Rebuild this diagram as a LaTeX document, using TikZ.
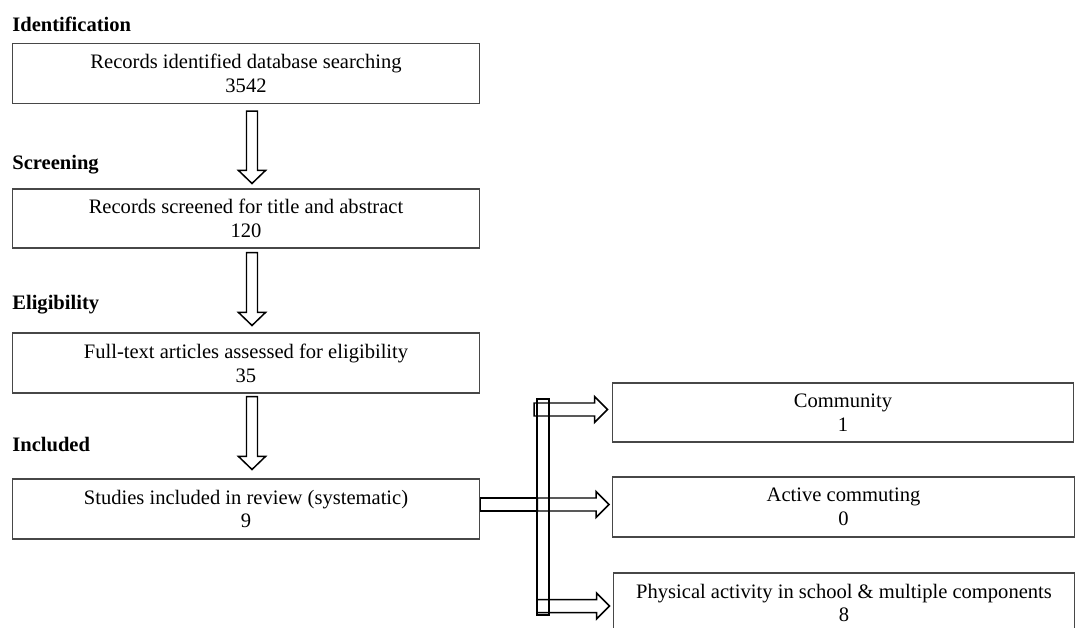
\documentclass[tikz,border=0pt]{standalone}
\usepackage{fontspec}
\setmainfont{Liberation Serif}
\usetikzlibrary{calc,positioning}

\tikzset{
  stagebox/.style={draw=black!72,line width=0.6pt,minimum width=9.36cm,
    minimum height=1.2cm,align=center,inner sep=0pt,
    font=\fontsize{11.7}{13.6}\selectfont},
  groupbox/.style={stagebox,minimum width=9.24cm},
  stagelabel/.style={anchor=base west,inner sep=0pt,
    font=\fontsize{11.7}{13.6}\selectfont\bfseries},
  blockarrow/.style={draw=black,line width=0.85pt,line join=miter}
}

% hollow block arrows, start and tip on one line
\newcommand{\flowdown}[2]{%
  \draw[blockarrow] ($(#1)+(-5.5,0)$) -- ($(#2)+(-5.5,-13)$)
    -- ($(#2)+(-13.5,-13)$) -- (#2) -- ($(#2)+(13.5,-13)$)
    -- ($(#2)+(5.5,-13)$) -- ($(#1)+(5.5,0)$) -- cycle;}
\newcommand{\flowright}[2]{%
  \draw[blockarrow] ($(#1)+(0,-6.5)$) -- ($(#2)+(-13,-6.5)$)
    -- ($(#2)+(-13,-13)$) -- (#2) -- ($(#2)+(-13,13)$)
    -- ($(#2)+(-13,6.5)$) -- ($(#1)+(0,6.5)$) -- cycle;}

\begin{document}
\begin{tikzpicture}[x=0.02cm,y=-0.02cm]
    \clip (0,0) rectangle (1075,628);
    \useasboundingbox (0,0) rectangle (1075,628);

    % stage labels
    \node[stagelabel] (lident) at (12,32) {Identification};
    \node[stagelabel] (lscreen) at (12,170) {Screening};
    \node[stagelabel] (lelig) at (12,309) {Eligibility};
    \node[stagelabel] (lincl) at (12,451) {Included};

    % main column
    \node[stagebox] (ident) at (246,73.5) {Records identified database searching\\3542};
    \node[stagebox,minimum height=1.18cm] (screen) at (246,218.5) {Records screened for title and abstract\\120};
    \node[stagebox] (elig) at (246,363) {Full-text articles assessed for eligibility\\35};
    \node[stagebox] (incl) at (246,509) {Studies included in review (systematic)\\9};

    % groups
    \node[groupbox,minimum height=1.18cm] (commun) at (843,412.5) {Community\\1};
    \node[groupbox] (commute) at (843.5,507) {Active commuting\\0};
    \node[groupbox] (school) at (844,603) {Physical activity in school \& multiple components\\8};

    % down arrows
    \coordinate (a1) at ($(ident.south)+(6,7)$);
    \coordinate (b1) at ($(screen.north)+(6,-5)$);
    \coordinate (a2) at ($(screen.south)+(6,4)$);
    \coordinate (b2) at ($(elig.north)+(6,-7)$);
    \coordinate (a3) at ($(elig.south)+(6,3)$);
    \coordinate (b3) at ($(incl.north)+(6,-9)$);
    \flowdown{a1}{b1}
    \flowdown{a2}{b2}
    \flowdown{a3}{b3}

    % splitter bar
    \coordinate (bartop) at (543,399);
    \coordinate (barbot) at (543,615);
    \draw[blockarrow] ($(bartop)+(-6,0)$) rectangle ($(barbot)+(6,0)$);
    \coordinate (split) at ($(incl.east)+(57,-4.5)$);
    \draw[blockarrow] ($(incl.east)+(0,-11)$) rectangle ($(split)+(0,6.5)$);

    % right arrows
    \coordinate (s1) at ($(bartop)+(-9,10.5)$);
    \coordinate (t1) at ($(commun.west)+(-4,-3)$);
    \coordinate (t2) at ($(commute.west)+(-3,-2.5)$);
    \coordinate (s3) at ($(barbot)+(-6,-9)$);
    \coordinate (t3) at ($(school.west)+(-3,3)$);
    \flowright{s1}{t1}
    \flowright{split}{t2}
    \flowright{s3}{t3}
  \end{tikzpicture}
\end{document}
